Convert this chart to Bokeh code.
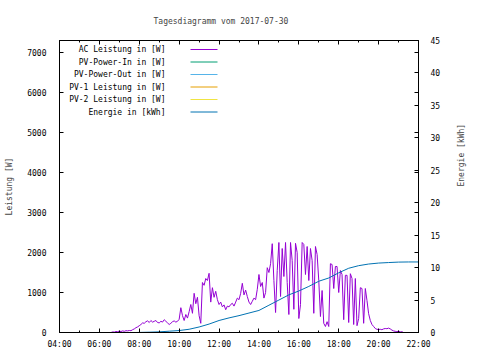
import math
from datetime import datetime
from bokeh.plotting import figure
from bokeh.models import Range1d, LinearAxis, FixedTicker, Label, Arrow
from bokeh.embed import file_html
from bokeh.resources import INLINE

title_text = "Tagesdiagramm vom 2017-07-30"
left_label = "Leistung [W]"
right_label = "Energie [kWh]"

series_names = ["AC Leistung in [W]", "PV-Power-In in [W]", "PV-Power-Out in [W]",
                "PV-1 Leistung in [W]", "PV-2 Leistung in [W]", "Energie in [kWh]"]
series_colors = ["#9400d3", "#009e73", "#56b4e9", "#e69f00", "#f0e442", "#0072b2"]

x_tick_hours = [4, 6, 8, 10, 12, 14, 16, 18, 20, 22]
x_tick_labels = ["04:00", "06:00", "08:00", "10:00", "12:00", "14:00", "16:00", "18:00", "20:00", "22:00"]
x_minor_hours = [5, 7, 9, 11, 13, 15, 17, 19, 21]
left_ticks = [0, 1000, 2000, 3000, 4000, 5000, 6000, 7000]
right_ticks = [0, 5, 10, 15, 20, 25, 30, 35, 40, 45]
LEFT_MAX = 7300
RIGHT_MAX = 45

# AC Leistung in W, 5-minute samples starting 06:35
ac_start = "06:35"
ac_watts = [
    0, 15, 10, 25, 20,
    35, 25, 40, 30, 45, 40, 50, 45, 70, 90, 120, 140,
    170, 200, 240, 230, 270, 290, 250, 300, 260, 280, 300, 250,
    240, 280, 260, 320, 280, 240, 200, 230, 270, 290, 260, 280,
    330, 620, 420, 300, 450, 360, 520, 700, 480, 980, 720, 880,
    420, 230, 1250, 1180, 1350, 1300, 1480, 760, 1120, 880, 1030, 820,
    700, 760, 640, 690, 570, 660, 640, 700, 730, 660, 760, 860,
    820, 980, 1230, 940, 1060, 900, 760, 700, 780, 860, 820, 1080,
    1450, 1150, 1250, 860, 1000, 1620, 1500, 1720, 2220, 1300, 500, 1550,
    2250, 900, 2100, 1400, 2250, 1250, 450, 2250, 1800, 580, 2230, 2000,
    350, 700, 2250, 2200, 1450, 2150, 1300, 2100, 1800, 480, 2150, 1950,
    1300, 400, 1050, 230, 150, 270, 150, 1720, 1700, 1100, 1650, 1650,
    1000, 1550, 1450, 320, 1430, 1430, 250, 1470, 1350, 200, 1350, 170,
    350, 1120, 1100, 230, 1100, 800, 470, 300, 200, 150, 100, 80,
    75, 80, 70, 90, 100, 95, 110, 90, 60, 40, 30, 20,
    35, 15, 20, 0,
]

energy_times = ["07:50", "08:30", "09:00", "09:30", "10:00", "10:30", "11:00", "11:30",
                "12:00", "12:30", "13:00", "13:30", "14:00", "14:30", "15:00", "15:30",
                "16:00", "16:30", "17:00", "17:30", "18:00", "18:30", "19:00", "19:30",
                "20:00", "20:30", "21:00", "21:30", "22:00"]
energy_kwh = [0.0, 0.05, 0.1, 0.2, 0.3, 0.5, 0.85, 1.3,
              1.85, 2.25, 2.6, 3.0, 3.4, 4.2, 5.0, 5.8,
              6.4, 7.1, 7.9, 8.4, 9.2, 9.9, 10.3, 10.55,
              10.7, 10.78, 10.85, 10.87, 10.87]


def to_hours(s):
    t = datetime.strptime(s, "%H:%M")
    return t.hour + t.minute / 60.0


ac_h0 = to_hours(ac_start)
ac_hours = [ac_h0 + i * 5 / 60.0 for i in range(len(ac_watts))]
energy_hours = [to_hours(s) for s in energy_times]

FONT = "DejaVu Sans Mono"
FS = "8px"

p = figure(width=480, height=360, output_backend="svg", toolbar_location=None,
           x_range=Range1d(4, 22), y_range=Range1d(0, LEFT_MAX),
           min_border_left=59, min_border_right=62, min_border_top=39, min_border_bottom=28,
           background_fill_color="white", border_fill_color="white")
p.extra_y_ranges = {"energy": Range1d(0, RIGHT_MAX)}
p.grid.visible = False
p.outline_line_color = "black"
p.outline_line_alpha = 1.0

p.title.text = title_text
p.title.text_font = FONT
p.title.text_font_size = FS
p.title.text_font_style = "normal"
p.title.align = "left"
p.title.offset = 94
p.title.standoff = 29


def style_axis(ax):
    ax.major_tick_in = 4
    ax.major_tick_out = 0
    ax.minor_tick_in = 2
    ax.minor_tick_out = 0
    ax.axis_line_color = "black"
    ax.major_label_text_font = FONT
    ax.major_label_text_font_size = FS
    ax.axis_label_text_font = FONT
    ax.axis_label_text_font_size = FS
    ax.axis_label_text_font_style = "normal"
    ax.major_label_text_color = "black"


xax = p.xaxis[0]
xax.ticker = FixedTicker(ticks=x_tick_hours, minor_ticks=x_minor_hours)
xax.major_label_overrides = {h: lab for h, lab in zip(x_tick_hours, x_tick_labels)}
style_axis(xax)
xax.major_label_standoff = 7

yax = p.yaxis[0]
yax.ticker = FixedTicker(ticks=left_ticks, minor_ticks=[])
yax.axis_label = left_label
style_axis(yax)
yax.major_label_standoff = 13
yax.axis_label_standoff = 10

mirror = [t * RIGHT_MAX / LEFT_MAX for t in left_ticks]
rax = LinearAxis(y_range_name="energy", ticker=FixedTicker(ticks=right_ticks, minor_ticks=mirror),
                 axis_label=right_label)
style_axis(rax)
rax.minor_tick_in = 4
rax.major_label_standoff = 12
rax.axis_label_standoff = 18
rax.axis_label_orientation = math.pi / 2
p.add_layout(rax, "right")

tax = LinearAxis(ticker=FixedTicker(ticks=x_tick_hours, minor_ticks=x_minor_hours))
style_axis(tax)
tax.major_label_overrides = {h: "" for h in x_tick_hours}
tax.major_label_standoff = -11
p.add_layout(tax, "above")

p.line(ac_hours, ac_watts, line_color=series_colors[0], line_width=1)
p.line(energy_hours, energy_kwh, line_color=series_colors[5], line_width=1, y_range_name="energy")

# key (gnuplot style: text right-aligned, sample line to the right); screen units from frame corner
for i, (name, col) in enumerate(zip(series_names, series_colors)):
    yy = 283 - i * 12.5
    p.add_layout(Label(x=106, y=yy, x_units="screen", y_units="screen", text=name,
                       text_align="right", text_baseline="middle", text_font=FONT,
                       text_font_size=FS, text_color="black"))
    p.add_layout(Arrow(end=None, x_start=131, y_start=yy, x_end=158, y_end=yy,
                       start_units="screen", end_units="screen",
                       line_color=col, line_width=1))

open("out.html", "w").write(file_html(p, INLINE))
